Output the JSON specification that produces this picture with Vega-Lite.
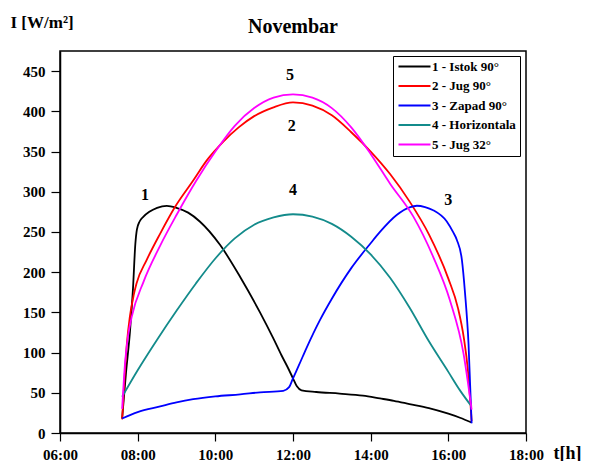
{
  "$schema": "https://vega.github.io/schema/vega-lite/v6.json",
  "width": 466,
  "height": 382,
  "autosize": {"type": "none"},
  "padding": {"left": 60, "top": 51, "right": 71, "bottom": 28},
  "background": "white",
  "title": {"text": "Novembar", "font": "Liberation Serif", "fontSize": 20, "fontWeight": "bold", "color": "black", "anchor": "middle", "frame": "group", "offset": 4, "dy": 28},
  "config": {
    "view": {"stroke": "black", "strokeWidth": 1.5},
    "axis": {"domainColor": "black", "domainWidth": 1.5, "tickColor": "black", "tickWidth": 1.2, "grid": false, "labelFont": "Liberation Serif", "labelFontSize": 15, "labelFontWeight": "bold", "labelColor": "black", "titleFont": "Liberation Serif", "titleFontWeight": "bold", "titleColor": "black", "labelFlush": false}
  },
  "datasets": {
    "curves": [
      {"t": 7.6, "v": 18, "s": "1 - Istok 90°"},
      {"t": 7.7, "v": 75, "s": "1 - Istok 90°"},
      {"t": 7.8, "v": 125, "s": "1 - Istok 90°"},
      {"t": 7.88, "v": 180, "s": "1 - Istok 90°"},
      {"t": 7.94, "v": 235, "s": "1 - Istok 90°"},
      {"t": 7.98, "v": 253, "s": "1 - Istok 90°"},
      {"t": 8.05, "v": 263, "s": "1 - Istok 90°"},
      {"t": 8.15, "v": 269, "s": "1 - Istok 90°"},
      {"t": 8.3, "v": 275, "s": "1 - Istok 90°"},
      {"t": 8.5, "v": 280, "s": "1 - Istok 90°"},
      {"t": 8.75, "v": 282.5, "s": "1 - Istok 90°"},
      {"t": 9.0, "v": 280, "s": "1 - Istok 90°"},
      {"t": 9.3, "v": 274, "s": "1 - Istok 90°"},
      {"t": 9.6, "v": 263, "s": "1 - Istok 90°"},
      {"t": 10.12, "v": 234, "s": "1 - Istok 90°"},
      {"t": 10.64, "v": 194, "s": "1 - Istok 90°"},
      {"t": 11.15, "v": 150, "s": "1 - Istok 90°"},
      {"t": 11.5, "v": 117, "s": "1 - Istok 90°"},
      {"t": 11.7, "v": 97, "s": "1 - Istok 90°"},
      {"t": 11.85, "v": 83, "s": "1 - Istok 90°"},
      {"t": 12.0, "v": 68, "s": "1 - Istok 90°"},
      {"t": 12.1, "v": 58, "s": "1 - Istok 90°"},
      {"t": 12.22, "v": 53, "s": "1 - Istok 90°"},
      {"t": 12.6, "v": 51, "s": "1 - Istok 90°"},
      {"t": 13.2, "v": 49, "s": "1 - Istok 90°"},
      {"t": 13.8, "v": 46.5, "s": "1 - Istok 90°"},
      {"t": 14.24, "v": 43, "s": "1 - Istok 90°"},
      {"t": 14.6, "v": 40, "s": "1 - Istok 90°"},
      {"t": 15.0, "v": 36, "s": "1 - Istok 90°"},
      {"t": 15.5, "v": 31, "s": "1 - Istok 90°"},
      {"t": 16.0, "v": 24, "s": "1 - Istok 90°"},
      {"t": 16.3, "v": 19, "s": "1 - Istok 90°"},
      {"t": 16.6, "v": 13, "s": "1 - Istok 90°"},

      {"t": 7.6, "v": 17, "s": "2 - Jug 90°"},
      {"t": 7.67, "v": 75, "s": "2 - Jug 90°"},
      {"t": 7.72, "v": 110, "s": "2 - Jug 90°"},
      {"t": 7.8, "v": 145, "s": "2 - Jug 90°"},
      {"t": 7.9, "v": 172, "s": "2 - Jug 90°"},
      {"t": 7.97, "v": 186, "s": "2 - Jug 90°"},
      {"t": 8.23, "v": 215, "s": "2 - Jug 90°"},
      {"t": 8.58, "v": 248, "s": "2 - Jug 90°"},
      {"t": 8.96, "v": 281, "s": "2 - Jug 90°"},
      {"t": 9.43, "v": 314, "s": "2 - Jug 90°"},
      {"t": 9.78, "v": 339, "s": "2 - Jug 90°"},
      {"t": 10.2, "v": 362, "s": "2 - Jug 90°"},
      {"t": 10.6, "v": 380, "s": "2 - Jug 90°"},
      {"t": 11.0, "v": 394, "s": "2 - Jug 90°"},
      {"t": 11.5, "v": 405, "s": "2 - Jug 90°"},
      {"t": 12.0, "v": 411, "s": "2 - Jug 90°"},
      {"t": 12.5, "v": 407, "s": "2 - Jug 90°"},
      {"t": 13.0, "v": 395, "s": "2 - Jug 90°"},
      {"t": 13.5, "v": 374, "s": "2 - Jug 90°"},
      {"t": 14.0, "v": 350, "s": "2 - Jug 90°"},
      {"t": 14.5, "v": 322, "s": "2 - Jug 90°"},
      {"t": 15.0, "v": 288, "s": "2 - Jug 90°"},
      {"t": 15.5, "v": 247, "s": "2 - Jug 90°"},
      {"t": 16.0, "v": 192, "s": "2 - Jug 90°"},
      {"t": 16.25, "v": 155, "s": "2 - Jug 90°"},
      {"t": 16.4, "v": 118, "s": "2 - Jug 90°"},
      {"t": 16.5, "v": 80, "s": "2 - Jug 90°"},
      {"t": 16.6, "v": 15, "s": "2 - Jug 90°"},

      {"t": 7.6, "v": 18, "s": "3 - Zapad 90°"},
      {"t": 8.0, "v": 26, "s": "3 - Zapad 90°"},
      {"t": 8.58, "v": 33, "s": "3 - Zapad 90°"},
      {"t": 9.0, "v": 38, "s": "3 - Zapad 90°"},
      {"t": 9.43, "v": 42, "s": "3 - Zapad 90°"},
      {"t": 10.0, "v": 45.5, "s": "3 - Zapad 90°"},
      {"t": 10.64, "v": 48, "s": "3 - Zapad 90°"},
      {"t": 11.15, "v": 50.5, "s": "3 - Zapad 90°"},
      {"t": 11.75, "v": 52.5, "s": "3 - Zapad 90°"},
      {"t": 11.9, "v": 57, "s": "3 - Zapad 90°"},
      {"t": 12.0, "v": 68, "s": "3 - Zapad 90°"},
      {"t": 12.15, "v": 84, "s": "3 - Zapad 90°"},
      {"t": 12.35, "v": 106, "s": "3 - Zapad 90°"},
      {"t": 12.7, "v": 141, "s": "3 - Zapad 90°"},
      {"t": 13.0, "v": 167, "s": "3 - Zapad 90°"},
      {"t": 13.5, "v": 205, "s": "3 - Zapad 90°"},
      {"t": 14.0, "v": 236, "s": "3 - Zapad 90°"},
      {"t": 14.24, "v": 250, "s": "3 - Zapad 90°"},
      {"t": 14.67, "v": 271, "s": "3 - Zapad 90°"},
      {"t": 15.0, "v": 280.5, "s": "3 - Zapad 90°"},
      {"t": 15.19, "v": 282.6, "s": "3 - Zapad 90°"},
      {"t": 15.4, "v": 281, "s": "3 - Zapad 90°"},
      {"t": 15.61, "v": 277, "s": "3 - Zapad 90°"},
      {"t": 15.96, "v": 263, "s": "3 - Zapad 90°"},
      {"t": 16.12, "v": 250, "s": "3 - Zapad 90°"},
      {"t": 16.22, "v": 240, "s": "3 - Zapad 90°"},
      {"t": 16.35, "v": 215, "s": "3 - Zapad 90°"},
      {"t": 16.43, "v": 174, "s": "3 - Zapad 90°"},
      {"t": 16.52, "v": 111, "s": "3 - Zapad 90°"},
      {"t": 16.6, "v": 12, "s": "3 - Zapad 90°"},

      {"t": 7.6, "v": 45, "s": "4 - Horizontala"},
      {"t": 8.0, "v": 78, "s": "4 - Horizontala"},
      {"t": 8.5, "v": 116, "s": "4 - Horizontala"},
      {"t": 9.0, "v": 152, "s": "4 - Horizontala"},
      {"t": 9.5, "v": 186, "s": "4 - Horizontala"},
      {"t": 10.0, "v": 217, "s": "4 - Horizontala"},
      {"t": 10.5, "v": 242, "s": "4 - Horizontala"},
      {"t": 11.0, "v": 259, "s": "4 - Horizontala"},
      {"t": 11.5, "v": 268, "s": "4 - Horizontala"},
      {"t": 12.0, "v": 272, "s": "4 - Horizontala"},
      {"t": 12.5, "v": 269, "s": "4 - Horizontala"},
      {"t": 13.0, "v": 260, "s": "4 - Horizontala"},
      {"t": 13.5, "v": 244, "s": "4 - Horizontala"},
      {"t": 14.0, "v": 222, "s": "4 - Horizontala"},
      {"t": 14.5, "v": 193, "s": "4 - Horizontala"},
      {"t": 15.0, "v": 156, "s": "4 - Horizontala"},
      {"t": 15.5, "v": 114, "s": "4 - Horizontala"},
      {"t": 16.0, "v": 76, "s": "4 - Horizontala"},
      {"t": 16.3, "v": 53, "s": "4 - Horizontala"},
      {"t": 16.6, "v": 33, "s": "4 - Horizontala"},

      {"t": 7.6, "v": 30, "s": "5 - Jug 32°"},
      {"t": 7.68, "v": 90, "s": "5 - Jug 32°"},
      {"t": 7.75, "v": 120, "s": "5 - Jug 32°"},
      {"t": 7.85, "v": 145, "s": "5 - Jug 32°"},
      {"t": 8.15, "v": 188, "s": "5 - Jug 32°"},
      {"t": 8.58, "v": 233, "s": "5 - Jug 32°"},
      {"t": 9.0, "v": 271, "s": "5 - Jug 32°"},
      {"t": 9.5, "v": 313, "s": "5 - Jug 32°"},
      {"t": 10.0, "v": 350, "s": "5 - Jug 32°"},
      {"t": 10.5, "v": 382, "s": "5 - Jug 32°"},
      {"t": 11.0, "v": 404, "s": "5 - Jug 32°"},
      {"t": 11.5, "v": 417, "s": "5 - Jug 32°"},
      {"t": 12.0, "v": 421, "s": "5 - Jug 32°"},
      {"t": 12.5, "v": 417, "s": "5 - Jug 32°"},
      {"t": 13.0, "v": 404, "s": "5 - Jug 32°"},
      {"t": 13.5, "v": 380, "s": "5 - Jug 32°"},
      {"t": 14.0, "v": 347, "s": "5 - Jug 32°"},
      {"t": 14.5, "v": 310, "s": "5 - Jug 32°"},
      {"t": 15.1, "v": 269, "s": "5 - Jug 32°"},
      {"t": 15.61, "v": 219, "s": "5 - Jug 32°"},
      {"t": 16.04, "v": 165, "s": "5 - Jug 32°"},
      {"t": 16.39, "v": 99, "s": "5 - Jug 32°"},
      {"t": 16.6, "v": 29, "s": "5 - Jug 32°"}
    ],
    "labels": [
      {"t": 8.19, "v": 296, "label": "1"},
      {"t": 11.97, "v": 382, "label": "2"},
      {"t": 16.0, "v": 290, "label": "3"},
      {"t": 12.0, "v": 302, "label": "4"},
      {"t": 11.92, "v": 445, "label": "5"}
    ]
  },
  "layer": [
    {
      "data": {"name": "curves"},
      "mark": {"type": "line", "interpolate": "monotone", "strokeWidth": 1.8},
      "encoding": {
        "x": {"field": "t", "type": "quantitative", "scale": {"domain": [6, 18], "nice": false, "zero": false},
          "axis": {"title": "t[h]", "values": [6,7,8,9,10,11,12,13,14,15,16,17,18],
            "labelExpr": "datum.value % 2 == 0 ? (datum.value < 10 ? '0' : '') + datum.value + ':00' : ''",
            "tickSize": {"condition": {"test": "datum.value % 2 == 0", "value": 8}, "value": 4},
            "labelPadding": 6, "titleFontSize": 18, "titleX": 493, "titleY": 25, "titleAlign": "left", "titleBaseline": "alphabetic"}},
        "y": {"field": "v", "type": "quantitative", "scale": {"domain": [0, 475], "nice": false},
          "axis": {"title": "I [W/m²]", "values": [0,25,50,75,100,125,150,175,200,225,250,275,300,325,350,375,400,425,450],
            "labelExpr": "datum.value % 50 == 0 ? datum.label : ''",
            "tickSize": {"condition": {"test": "datum.value % 50 == 0", "value": 9}, "value": 5},
            "labelPadding": 6, "titleFontSize": 17, "titleAngle": 0, "titleX": -50, "titleY": -24, "titleAlign": "left", "titleBaseline": "alphabetic"}},
        "color": {"field": "s", "type": "nominal",
          "scale": {"domain": ["1 - Istok 90°", "2 - Jug 90°", "3 - Zapad 90°", "4 - Horizontala", "5 - Jug 32°"],
            "range": ["#000000", "#ff0000", "#0000ff", "#138b8b", "#ff00ff"]},
          "legend": {"orient": "none", "legendX": 333, "legendY": 5, "title": null, "strokeColor": "black", "padding": 4, "rowPadding": 5.5,
            "symbolType": "M-3.2,0H3.2", "symbolSize": 100, "symbolStrokeWidth": 2, "symbolOffset": 11, "labelOffset": 11,
            "labelFont": "Liberation Serif", "labelFontSize": 13, "labelFontWeight": "bold", "labelColor": "black"}}
      }
    },
    {
      "data": {"name": "labels"},
      "mark": {"type": "text", "font": "Liberation Serif", "fontSize": 16, "fontWeight": "bold", "color": "black", "baseline": "middle", "align": "center"},
      "encoding": {
        "x": {"field": "t", "type": "quantitative"},
        "y": {"field": "v", "type": "quantitative"},
        "text": {"field": "label"}
      }
    }
  ]
}
